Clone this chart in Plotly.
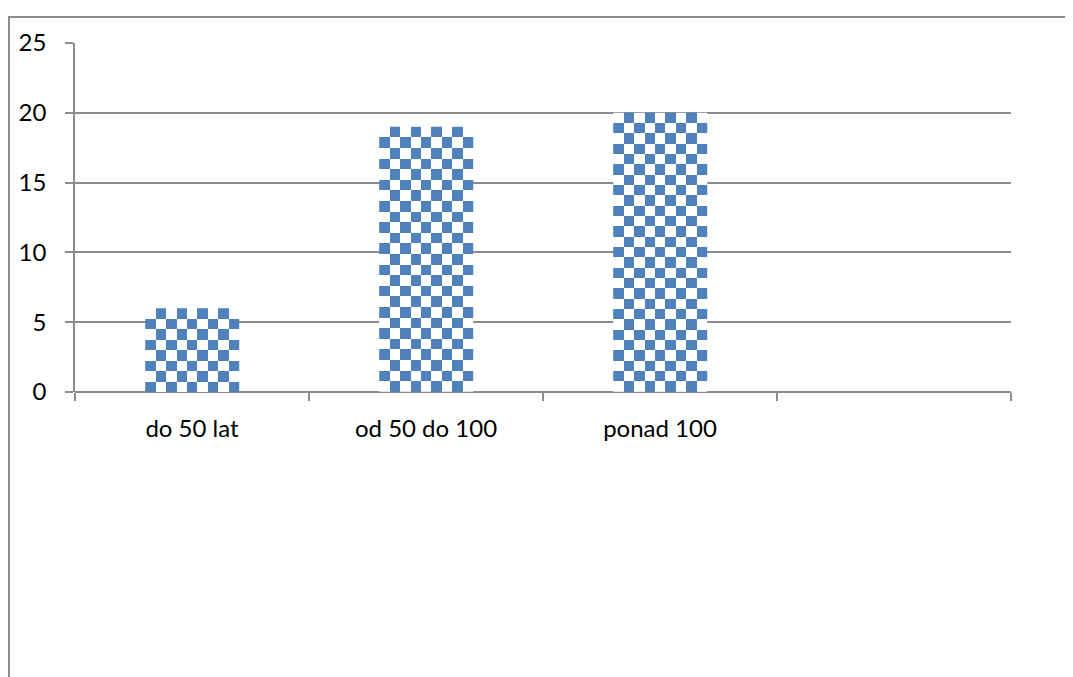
import numpy as np
import plotly.graph_objects as go

categories = ["do 50 lat", "od 50 do 100", "ponad 100"]
values = [6, 19, 20]
slot_count = 4
y_ticks = [0, 5, 10, 15, 20, 25]

BLUE = "#4f81bd"
GRID = "#8c8c8c"
bar_half = 0.2
cell_x = 0.045
cell_y = 0.75

fig = go.Figure()

xs = list(range(len(categories)))
fig.add_trace(go.Bar(x=xs, y=values, width=2 * bar_half,
                     marker=dict(color="rgba(0,0,0,0)", line=dict(width=0)),
                     showlegend=False, hovertemplate="%{y}<extra></extra>"))

for i, v in zip(xs, values):
    nx = max(1, round(2 * bar_half / cell_x))
    ny = max(1, round(v / cell_y))
    xe = np.linspace(i - bar_half, i + bar_half, nx + 1)
    ye = np.linspace(0, v, ny + 1)
    z = [[(r + c) % 2 for c in range(nx)] for r in range(ny)]
    z = z[::-1] if ny % 2 == 0 else z
    fig.add_trace(go.Heatmap(x=xe, y=ye, z=z, zmin=0, zmax=1,
                             colorscale=[[0, "white"], [1, BLUE]],
                             showscale=False, hoverinfo="skip"))

fig.update_layout(
    width=1065, height=669,
    margin=dict(l=67, r=62, t=35, b=285),
    paper_bgcolor="white", plot_bgcolor="white",
    font=dict(family="Lato, 'Open Sans', sans-serif", size=24, color="black"),
    showlegend=False,
    xaxis=dict(range=[-0.5, slot_count - 0.5], tickvals=xs, ticktext=categories,
               ticks="", showgrid=False, zeroline=False, showline=False,
               ticklabelstandoff=20, fixedrange=True, tickfont=dict(size=24),
               minor=dict(tickvals=[k - 0.5 for k in range(slot_count + 1)],
                          ticks="outside", ticklen=8, tickwidth=1.5, tickcolor=GRID,
                          showgrid=False)),
    yaxis=dict(range=[0, 25], tickvals=y_ticks, ticks="outside", ticklen=8,
               tickwidth=1.5, tickcolor=GRID, showgrid=True, gridcolor=GRID,
               gridwidth=1.5, zeroline=True, zerolinecolor=GRID, zerolinewidth=1.5,
               showline=True, linecolor=GRID, linewidth=1.5, tickfont=dict(size=24),
               ticklabelstandoff=14, fixedrange=True),
    shapes=[
        dict(type="rect", xref="paper", yref="paper",
             x0=-0.0705, x1=1.2, y0=-1.0, y1=1.0745,
             line=dict(color=GRID, width=2), fillcolor="rgba(0,0,0,0)", layer="below"),
    ],
)

fig.write_html("out.html")
